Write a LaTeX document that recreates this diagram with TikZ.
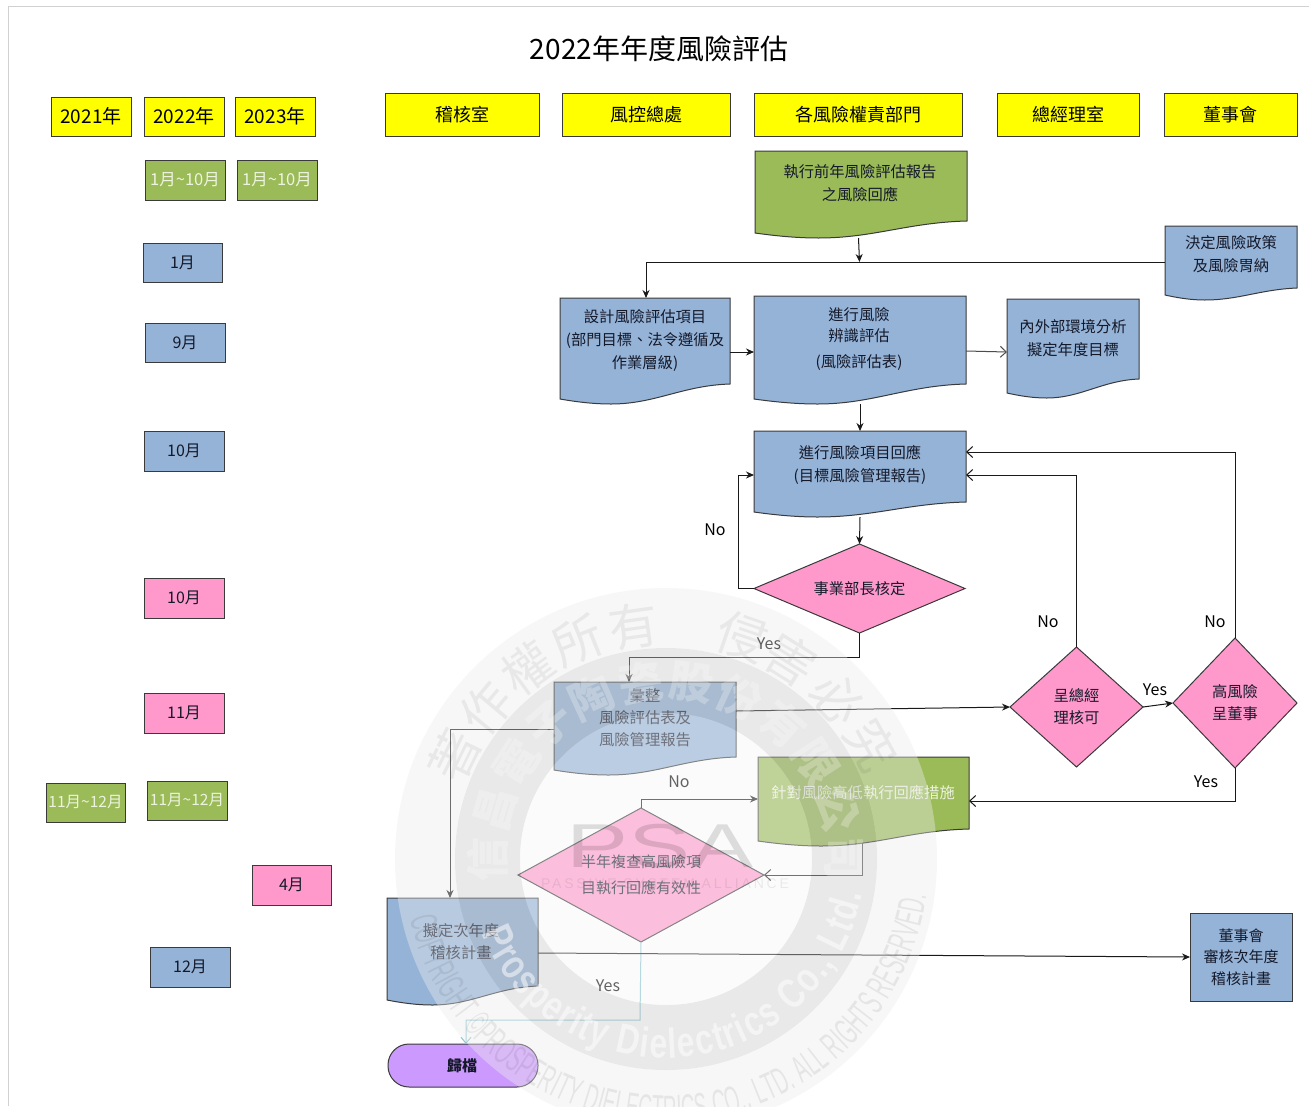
\documentclass[tikz,border=0pt]{standalone}
\usepackage{fontspec}
\setmainfont{Noto Sans CJK TC}
\newfontfamily\wmcond[FakeStretch=0.5]{Liberation Sans}
\newfontfamily\wmreg[FakeStretch=0.76]{Liberation Sans}
\newfontfamily\wmwide[FakeStretch=1.5]{Liberation Sans}
\newfontfamily\wmspaced[LetterSpace=20]{Liberation Sans}
\usetikzlibrary{arrows.meta,shapes.geometric,decorations.text}
\definecolor{cyel}{HTML}{FFFF00}
\definecolor{cgrn}{HTML}{9BBB59}
\definecolor{cblu}{HTML}{95B3D7}
\definecolor{cpnk}{HTML}{FF99CC}
\definecolor{cpur}{HTML}{CC99FF}
\definecolor{cedge}{HTML}{3A3A3A}
\definecolor{ctxt}{HTML}{14192A}
\definecolor{cgtxt}{HTML}{EEF3E0}
\definecolor{clblue}{HTML}{8CC6D0}
\newcommand{\fsz}[1]{\fontsize{#1}{#1}\selectfont}
\newcommand{\tagbox}[7]{% name x0 y0 x1 y1 style text
  \node[#6,minimum width=#4pt-#2pt,minimum height=#5pt-#3pt] (#1) at ({(#2+#4)/2},{(#3+#5)/2}) {#7};}
\newcommand{\docbox}[7]{% name x0 y0 x1 yright yleft/low fill
  \pgfmathsetmacro{\dw}{#4-#2}
  \path[draw=cedge,line width=1pt,fill=#7] (#2,#3) -- (#4,#3) -- (#4,#5)
    .. controls ({#2+.72*\dw},{#5+1.5}) and ({#2+.56*\dw},{#6+5}) .. ({#2+.30*\dw},{#6+5})
    .. controls ({#2+.20*\dw},{#6+5}) and ({#2+.10*\dw},{#6+3}) .. (#2,#6) -- cycle;
  \node[minimum width=#4pt-#2pt,minimum height=#6pt+5pt-#3pt,inner sep=0pt,outer sep=0pt] (#1) at ({(#2+#4)/2},{(#3+#6+5)/2}) {};}
\tikzset{
  hdr/.style={draw=cedge,line width=1pt,fill=cyel,inner sep=0pt,outer sep=0pt,font=\fsz{18},text=black},
  yrb/.style={hdr,font=\fsz{19}},
  blu/.style={draw=cedge,line width=1pt,fill=cblu,inner sep=0pt,outer sep=0pt,font=\fsz{16},text=ctxt},
  pnk/.style={draw=cedge,line width=1pt,fill=cpnk,inner sep=0pt,outer sep=0pt,font=\fsz{16},text=ctxt},
  grn/.style={draw=cedge,line width=1pt,fill=cgrn,inner sep=0pt,outer sep=0pt,font=\fsz{16.5},text=cgtxt},
  txt/.style={align=center,font=\fontsize{15.3}{23}\selectfont,text=ctxt,inner sep=0pt},
  gtxt/.style={txt,text=cgtxt},
  lab/.style={font=\fsz{16},text=black,inner sep=0pt},
  dia/.style={diamond,draw=cedge,line width=1pt,fill=cpnk,inner sep=0pt,outer sep=0pt,align=center,font=\fontsize{15.3}{22}\selectfont,text=ctxt},
  conn/.style={line width=1pt,draw=black!90},
  sa/.style={conn,-{Stealth[length=8pt,width=7pt]}},
  oa/.style={conn,-{Straight Barb[length=6pt,width=11pt]}},
  wmc/.style={inner sep=0pt,font=\fsz{50}}
}
\begin{document}
\begin{tikzpicture}[x=1pt,y=-1pt]
\useasboundingbox (0,0) rectangle (1309,1106);
\fill[white] (0,0) rectangle (1309,1106);
\draw[draw=black!18,line width=1pt] (8,1106) -- (8,6.5) -- (1309,6.5);
% title
\node[inner sep=0pt,font=\fsz{28},text=black] (title) at (659,49) {2022年年度風險評估};
% year / month column
\tagbox{y21}{51}{97}{131}{136}{yrb}{\raisebox{-1.5pt}{2021年}}
\tagbox{y22}{144}{97}{224}{136}{yrb}{\raisebox{-1.5pt}{2022年}}
\tagbox{y23}{235}{97}{315}{136}{yrb}{\raisebox{-1.5pt}{2023年}}
\tagbox{m1a}{145}{160}{225}{200}{grn}{1月\textasciitilde10月}
\tagbox{m1b}{237}{160}{317}{200}{grn}{1月\textasciitilde10月}
\tagbox{m2}{143}{243}{222}{282}{blu}{1月}
\tagbox{m3}{145}{323}{225}{362}{blu}{9月}
\tagbox{m4}{144}{431}{224}{471}{blu}{10月}
\tagbox{m5}{144}{578}{224}{618}{pnk}{\raisebox{-1pt}{10月}}
\tagbox{m6}{144}{693}{224}{733}{pnk}{\raisebox{-1pt}{11月}}
\tagbox{m7a}{46}{783}{125}{822}{grn,font=\fsz{15.5}}{11月\textasciitilde12月}
\tagbox{m7b}{147}{781}{227}{820}{grn,font=\fsz{15.5}}{11月\textasciitilde12月}
\tagbox{m8}{252}{865}{331}{905}{pnk}{4月}
\tagbox{m9}{150}{947}{230}{987}{blu}{12月}
% headers
\tagbox{h1}{385}{93}{539}{136}{hdr}{稽核室}
\tagbox{h2}{562}{93}{730}{136}{hdr}{風控總處}
\tagbox{h3}{754}{93}{962}{136}{hdr}{各風險權責部門}
\tagbox{h4}{997}{93}{1139}{136}{hdr}{總經理室}
\tagbox{h5}{1164}{93}{1297}{136}{hdr}{董事會}
% document shapes
\docbox{exec}{755}{151}{967}{221}{233}{cgrn}
\docbox{policy}{1165}{226}{1297}{288}{295}{cblu}
\docbox{design}{560}{298}{730}{384}{399}{cblu}
\docbox{ident}{754}{296}{966}{384}{399}{cblu}
\docbox{envir}{1007}{299}{1139}{379}{393}{cblu}
\docbox{resp}{754}{431}{966}{502}{512}{cblu}
\docbox{summ}{554}{682}{736}{757}{770}{cblu}
\docbox{act}{758}{757}{969}{829}{841}{cgrn}
\docbox{plan}{387}{898}{538}{986}{1000}{cblu}
\node[txt] (execT) at (860,183) {執行前年風險評估報告\\之風險回應};
\node[txt] (policyT) at (1231,254) {決定風險政策\\及風險胃納};
\node[txt] (designT) at (645,341) {設計風險評估項目\\(部門目標、法令遵循及\\作業層級)};
\node[txt,font=\fontsize{15.3}{21}\selectfont] (identT) at (859,339) {進行風險\\辨識評估\\[5pt](風險評估表)};
\node[txt] (envirT) at (1073,338) {內外部環境分析\\擬定年度目標};
\node[txt] (respT) at (860,465) {進行風險項目回應\\(目標風險管理報告)};
\node[txt,font=\fontsize{15.3}{22}\selectfont] (summT) at (645,718) {彙整\\風險評估表及\\風險管理報告};
\node[gtxt] (actT) at (863,793) {針對風險高低執行回應措施};
\node[txt,font=\fontsize{15.3}{22}\selectfont] (planT) at (461,942) {擬定次年度\\稽核計畫};
% other nodes
\node[draw=cedge,line width=1pt,fill=cblu,inner sep=0pt,outer sep=0pt,minimum width=102pt,minimum height=88pt,align=center,font=\fontsize{15}{21.5}\selectfont,text=ctxt] (board) at (1241,957) {董事會\\審核次年度\\稽核計畫};
\node[draw=cedge,line width=1pt,fill=cpur,rounded corners=21pt,inner sep=0pt,outer sep=0pt,minimum width=150pt,minimum height=43pt,font=\fsz{15},text=ctxt] (arch) at (463,1065.5) {\raisebox{-3pt}{\hspace{-2pt}\textbf{歸檔}}};
\node[dia,shape aspect=2.37,minimum width=211pt,minimum height=89pt] (d1) at (859.5,588.5) {\raisebox{1.5pt}{事業部長核定}};
\node[dia,shape aspect=1.11,minimum width=133pt,minimum height=120pt] (d2) at (1076.5,707) {\raisebox{2pt}{呈總經}\\\raisebox{2pt}{理核可}};
\node[dia,shape aspect=0.95,minimum width=124pt,minimum height=130pt] (d3) at (1235,703) {高風險\\呈董事};
\node[dia,shape aspect=1.83,minimum width=246pt,minimum height=134pt,font=\fontsize{15}{26}\selectfont] (d4) at (641,875) {半年複查高風險項\\目執行回應有效性};
% connectors
\coordinate (j1) at (859.5,262);
\draw[sa] (858.5,0 |- exec.south) -- (j1);
\draw[conn] (policy.west |- j1) -- (j1);
\draw[sa] (j1) -- (646,262) -- (646,298);
\draw[sa] (design.east |- 0,352) -- (ident.west |- 0,352);
\draw[oa,draw=black!70] (ident.east |- 0,351) -- (envir.west |- 0,352);
\draw[sa] (ident.south) -- (resp.north);
\draw[sa] (resp.south) -- (d1.north);
\draw[sa] (d1.west) -- (738,588.5) -- (738,475) -- (resp.west |- 0,475);
\draw[sa] (d1.south) -- (859.5,657) -- (629,657) -- (629,682);
\draw[sa] (summ.east |- 0,711) -- (d2.west);
\draw[sa] (summ.west |- 0,729) -- (450,729) -- (450,898);
\draw[oa] (d2.north) -- (1076.5,475) -- (resp.east |- 0,475);
\draw[sa] (d2.east) -- (d3.west);
\draw[oa] (d3.north) -- (1235,452) -- (resp.east |- 0,452);
\draw[oa] (d3.south) -- (1235,801) -- (act.east |- 0,801);
\draw[oa] (862,843) -- (862,875) -- (d4.east);
\draw[sa] (d4.north) -- (641,799) -- (act.west |- 0,799);
\draw[conn,clblue,-{Straight Barb[length=6pt,width=10pt]}] (d4.south) -- (640,1020) -- (466,1020) -- (466,1044);
\draw[sa] (plan.east |- 0,953) -- (board.west |- 0,957);
% labels
\node[lab] (l1) at (715,530) {No};
\node[lab] (l2) at (769,644) {Yes};
\node[lab] (l3) at (1048,622) {No};
\node[lab] (l4) at (1215,622) {No};
\node[lab] (l5) at (1155,690) {Yes};
\node[lab] (l6) at (1206,782) {Yes};
\node[lab] (l7) at (679,782) {No};
\node[lab] (l8) at (608,986) {Yes};
% watermark
\begin{scope}
\fill[opacity=.4,fill={rgb,255:red,237;green,237;blue,237},even odd rule] (666,859) circle[radius=271pt] (666,859) circle[radius=211pt];
\fill[opacity=.4,fill={rgb,255:red,200;green,200;blue,200},even odd rule] (666,859) circle[radius=211pt] (666,859) circle[radius=146pt];
\fill[opacity=.4,fill={rgb,255:red,246;green,246;blue,246}] (666,859) circle[radius=146pt];
\node[inner sep=0pt,opacity=.12,text=black,font=\wmwide\fsz{62}] (wmPSA) at (660,846) {PSA};
\node[inner sep=0pt,opacity=.07,text=black,font=\wmspaced\fsz{14}] (wmPSAt) at (665,884) {PASSIVE SYSTEM ALLIANCE};
\foreach \a/\c in {154/著,140/作,126/權,112/所,98/有,71/侵,58/害,43/必,29/究}{
  \node[wmc,rotate=\a-90,opacity=.06,text=black] (wmo\a) at ({666+235*cos(\a)},{859-235*sin(\a)}) {\c};}
\foreach \i/\c in {0/信,1/昌,2/電,3/子,4/陶,5/瓷,6/股,7/份,8/有,9/限,10/公,11/司}{
  \pgfmathsetmacro{\a}{180-\i*16.36}
  \node[wmc,font=\bfseries\fsz{44},rotate=\a-90,opacity=.26,text=white] (wmi\i) at ({666+178*cos(\a)},{859-178*sin(\a)}) {\c};}
\begin{scope}[opacity=.5]
\path[decorate,decoration={text along path,text={|\wmreg\bfseries\fsz{42}\color{white}|Prosperity Dielectrics Co., Ltd.},text align={fit to path}}]
  plot[domain=202:350,samples=90] ({666+199*cos(\x)},{859-199*sin(\x)});
\end{scope}
\begin{scope}[opacity=.07]
\path[decorate,decoration={text along path,text={|\wmcond\fsz{38}\color{black}|COPYRIGHT ©PROSPERITY DIELECTRICS CO., LTD. ALL RIGHTS RESERVED.},text align={fit to path}}]
  plot[domain=193:352,samples=90] ({666+263*cos(\x)},{859-263*sin(\x)});
\end{scope}
\end{scope}
\end{tikzpicture}
\end{document}
